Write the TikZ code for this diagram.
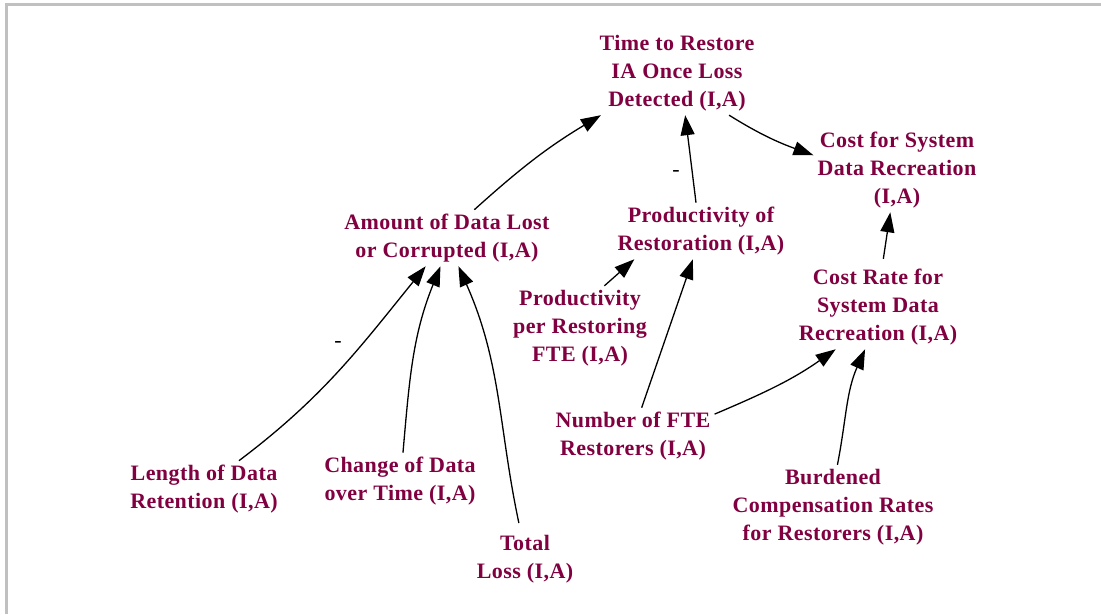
\documentclass[tikz,border=0pt]{standalone}
\usepackage{fontspec}
\setmainfont{Liberation Serif}
\usetikzlibrary{arrows.meta}
\definecolor{varred}{RGB}{128,0,64}
\definecolor{framegray}{RGB}{192,192,192}
\begin{document}
\begin{tikzpicture}[x=1pt,y=1pt,
  var/.style={text=varred, align=center, inner sep=4pt,
    font=\fontsize{22}{28}\selectfont\bfseries\addfontfeature{LetterSpace=2}},
  link/.style={line width=1.3pt, -{Triangle[length=20pt,width=14pt]}},
  sign/.style={font=\fontsize{22}{24}\selectfont, inner sep=0pt}]
\useasboundingbox (0,0) rectangle (1101,614);
% frame edges
\fill[framegray] (5,608) rectangle (1101,611);
\fill[framegray] (5,0) rectangle (8,611);

% variables
\node[var] (T)  at (677,541) {Time to Restore\\IA Once Loss\\Detected (I,A)};
\node[var] (C)  at (897,444) {Cost for System\\Data Recreation\\(I,A)};
\node[var] (A)  at (447,376) {Amount of Data Lost\\or Corrupted (I,A)};
\node[var] (P)  at (701,383) {Productivity of\\Restoration (I,A)};
\node[var] (R)  at (878,307) {Cost Rate for\\System Data\\Recreation (I,A)};
\node[var] (PF) at (580,286) {Productivity\\per Restoring\\FTE (I,A)};
\node[var] (N)  at (633,178) {Number of FTE\\Restorers (I,A)};
\node[var] (L)  at (204,125) {Length of Data\\Retention (I,A)};
\node[var] (CD) at (400,133) {Change of Data\\over Time (I,A)};
\node[var] (TL) at (525,55)  {Total\\Loss (I,A)};
\node[var] (B)  at (833,107) {Burdened\\Compensation Rates\\for Restorers (I,A)};

% links
\draw[link] (A.46) to[out=42,in=211] (T.209);
\draw[link] (P.100) -- (T.281);
\draw[link] (T.321) to[out=-32,in=160] (C.170);
\draw[link, shorten <=6pt] (R.84) -- (C.261);
\draw[link] (PF.60) -- (P.203);
\draw[link] (N.73) -- (P.254);
\draw[link] (N.15) to[out=23,in=215] (R.225);
\draw[link] (B.84) to[out=79,in=246] (R.253);
\draw[link] (L.39.5) to[out=37,in=231] (A.233);
\draw[link] (CD.84) to[out=85,in=248] (A.257);
\draw[link, shorten <=8pt] (TL.99.5) to[out=102,in=294] (A.292);

% polarity signs
\node[sign] (s1) at (338,270) {-};
\node[sign] (s2) at (676,441) {-};
\end{tikzpicture}
\end{document}
